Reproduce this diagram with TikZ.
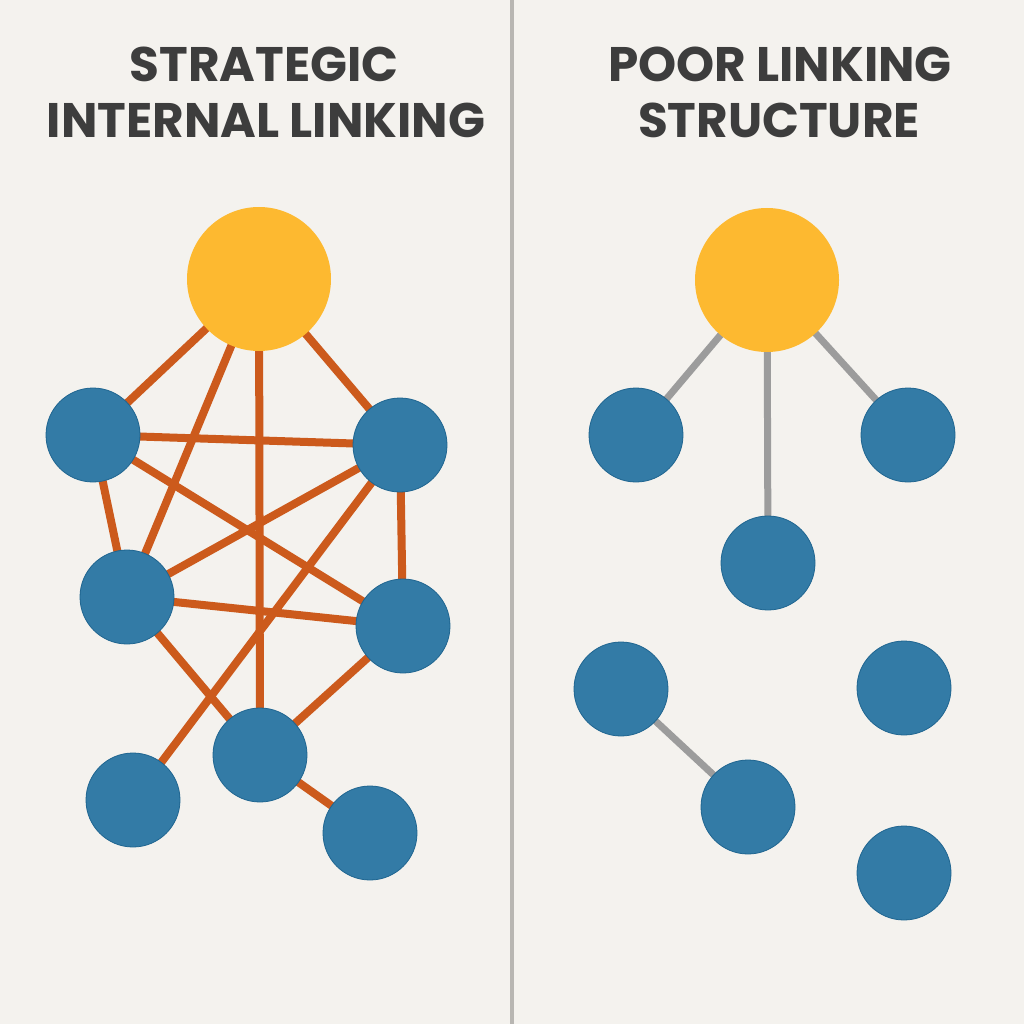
\documentclass[tikz,border=0pt]{standalone}
\usepackage{fontspec}
\setmainfont{Poppins}
\usetikzlibrary{backgrounds}
\definecolor{bg}{HTML}{F4F2EE}
\definecolor{bluefill}{HTML}{337BA6}
\definecolor{blueline}{HTML}{1F6590}
\definecolor{yel}{HTML}{FDB930}
\definecolor{org}{HTML}{CC5A1C}
\definecolor{gry}{HTML}{9C9C9C}
\definecolor{divc}{HTML}{B8B6B2}
\definecolor{ttl}{HTML}{3D3D3D}
\begin{document}
\begin{tikzpicture}[x=1pt,y=-1pt,
  hub/.style={circle,fill=yel,minimum size=144pt,inner sep=0pt},
  page/.style={circle,fill=bluefill,draw=blueline,line width=0.8pt,minimum size=94pt,inner sep=0pt},
  good/.style={draw=org,line width=8pt},
  bad/.style={draw=gry,line width=7pt},
  title/.style={text=ttl,font=\fontsize{48.5}{56}\selectfont\bfseries,align=center,inner sep=0pt}]
\useasboundingbox (0,0) rectangle (1024,1024);
% titles
\node[title] (t1a) at (264,64) {STRATEGIC};
\node[title] (t1b) at (266,120) {INTERNAL LINKING};
\node[title] (t2a) at (780,64) {POOR LINKING};
\node[title] (t2b) at (779,120) {STRUCTURE};
% left nodes
\node[hub] (Y) at (259,279) {};
\node[page] (A) at (93,435) {};
\node[page] (B) at (400,445) {};
\node[page] (C) at (127,597) {};
\node[page] (D) at (403,626) {};
\node[page] (E) at (260,755) {};
\node[page] (F) at (133,800) {};
\node[page] (G) at (370,833) {};
% right nodes
\node[hub] (Y2) at (767,280) {};
\node[page] (H) at (636,435) {};
\node[page] (I) at (908,435) {};
\node[page] (J) at (768,563) {};
\node[page] (K) at (621,689) {};
\node[page] (L) at (904,688) {};
\node[page] (M) at (748,807) {};
\node[page] (N) at (904,873) {};
\begin{scope}[on background layer]
\fill[bg] (0,0) rectangle (1024,1024);
\draw[divc,line width=4pt] (512,0) -- (512,1024);
% strategic links
\draw[good] (Y.center) -- (A.center);
\draw[good] (Y.center) -- (C.center);
\draw[good] (Y.center) -- (E.center);
\draw[good] (Y.center) -- (B.center);
\draw[good] (A.center) -- (B.center);
\draw[good] (A.center) -- (D.center);
\draw[good] (A.center) -- (C.center);
\draw[good] (C.center) -- (B.center);
\draw[good] (C.center) -- (D.center);
\draw[good] (B.center) -- (D.center);
\draw[good] (B.center) -- (F.center);
\draw[good] (C.center) -- (E.center);
\draw[good] (D.center) -- (E.center);
\draw[good] (E.center) -- (G.center);
% poor links
\draw[bad] (Y2.center) -- (H.center);
\draw[bad] (Y2.center) -- (I.center);
\draw[bad] (Y2.center) -- (J.center);
\draw[bad] (K.center) -- (M.center);
\end{scope}
\end{tikzpicture}
\end{document}
